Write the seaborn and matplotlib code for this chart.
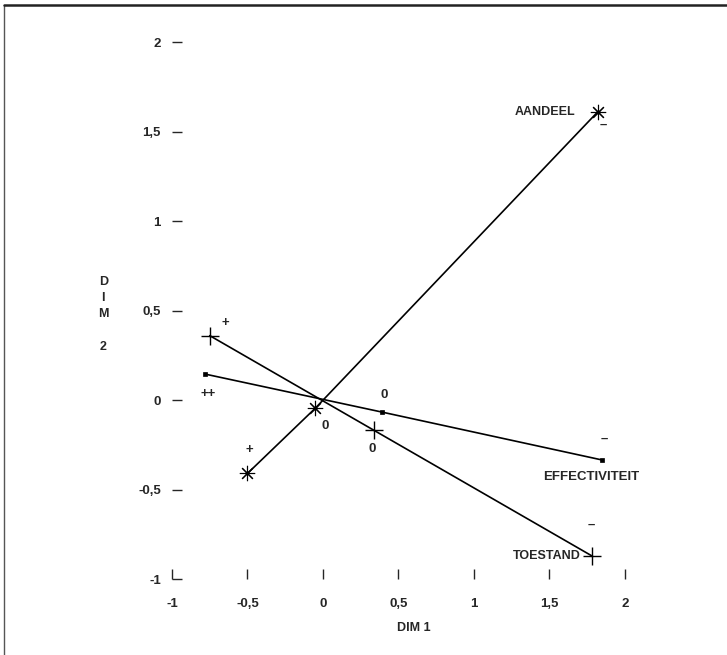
import matplotlib
matplotlib.use("Agg")
import matplotlib.pyplot as plt
from matplotlib.lines import Line2D
import pandas as pd
import seaborn as sns

# Category coordinates of the correspondence analysis (two dimensions)
variables = ["AANDEEL", "TOESTAND", "EFFECTIVITEIT"]
aandeel_dim1 = [-0.50, -0.05, 1.82]
aandeel_dim2 = [-0.41, -0.045, 1.61]
aandeel_cats = ["+", "0", "–"]
toestand_dim1 = [-0.75, 0.34, 1.78]
toestand_dim2 = [0.36, -0.17, -0.87]
toestand_cats = ["+", "0", "–"]
effect_dim1 = [-0.78, 0.39, 1.85]
effect_dim2 = [0.145, -0.067, -0.335]
effect_cats = ["++", "0", "–"]

x_ticks = [-1, -0.5, 0, 0.5, 1, 1.5, 2]
y_ticks = [-1, -0.5, 0, 0.5, 1, 1.5, 2]
x_tick_labels = ["-1", "-0,5", "0", "0,5", "1", "1,5", "2"]
y_tick_labels = ["-1", "-0,5", "0", "0,5", "1", "1,5", "2"]

frames = []
for name, xs, ys, cats in [
    ("AANDEEL", aandeel_dim1, aandeel_dim2, aandeel_cats),
    ("TOESTAND", toestand_dim1, toestand_dim2, toestand_cats),
    ("EFFECTIVITEIT", effect_dim1, effect_dim2, effect_cats),
]:
    frames.append(pd.DataFrame({"var": name, "dim1": xs, "dim2": ys,
                                "cat": cats, "order": range(len(xs))}))
df = pd.concat(frames, ignore_index=True)

sns.set_style("white")
plt.rcParams["font.family"] = ["Liberation Sans", "DejaVu Sans"]

fig = plt.figure(figsize=(7.27, 6.55), dpi=100)
ax = fig.add_axes([0.2366, 0.116, 0.6644, 0.847])

marker_style = {
    "AANDEEL": dict(marker=(8, 2, 0), markersize=11, markeredgewidth=0.8),
    "TOESTAND": dict(marker="+", markersize=13, markeredgewidth=1.0),
    "EFFECTIVITEIT": dict(marker="s", markersize=2.6, markeredgewidth=0.5),
}

for name in variables:
    sub = df[df["var"] == name]
    sns.lineplot(data=sub, x="dim1", y="dim2", sort=False, estimator=None,
                 color="black", linewidth=1.2, ax=ax,
                 markerfacecolor="black", markeredgecolor="black",
                 **marker_style[name])

# category labels beside each point (offsets in points)
cat_offsets = {
    "AANDEEL": [(1.5, 17), (7, -13), (4, -9)],
    "TOESTAND": [(11, 9), (-1.5, -13), (0, 22)],
    "EFFECTIVITEIT": [(2, -14), (2, 12), (1.5, 15)],
}
for name in variables:
    sub = df[df["var"] == name].reset_index(drop=True)
    for i, row in sub.iterrows():
        ax.annotate(row["cat"], (row["dim1"], row["dim2"]),
                    xytext=cat_offsets[name][i], textcoords="offset points",
                    ha="center", va="center", fontsize=9.5, fontweight="bold")

# variable names at the outer end of each line
end_a = df[df["var"] == "AANDEEL"].iloc[-1]
ax.annotate("AANDEEL", (end_a["dim1"], end_a["dim2"]), xytext=(-16, 0),
            textcoords="offset points", ha="right", va="center",
            fontsize=9, fontweight="bold")
end_t = df[df["var"] == "TOESTAND"].iloc[-1]
ax.annotate("TOESTAND", (end_t["dim1"], end_t["dim2"]), xytext=(-8, 0),
            textcoords="offset points", ha="right", va="center",
            fontsize=9, fontweight="bold")
end_e = df[df["var"] == "EFFECTIVITEIT"].iloc[-1]
ax.annotate("EFFECTIVITEIT", (end_e["dim1"], end_e["dim2"]), xytext=(-8, -12),
            textcoords="offset points", ha="center", va="center",
            fontsize=9.5, fontweight="bold")

ax.set_xlim(-1, 2.2)
ax.set_ylim(-1, 2.1)
ax.set_xticks(x_ticks)
ax.set_xticklabels(x_tick_labels, fontsize=9.5, fontweight="bold")
ax.set_yticks(y_ticks)
ax.set_yticklabels(y_tick_labels, fontsize=9.5, fontweight="bold")
ax.tick_params(axis="x", direction="in", length=7, width=1, pad=14, bottom=True)
ax.tick_params(axis="y", direction="in", length=7, width=1, pad=8, left=True)
for s in ax.spines.values():
    s.set_visible(False)
ax.set_xlabel("DIM 1", fontsize=9, fontweight="bold", labelpad=8)
ax.set_ylabel("")
fig.text(0.142, 0.52, "D\nI\nM\n\n2", ha="center", va="center",
         fontsize=9, fontweight="bold", linespacing=1.45)

# page frame lines
fig.add_artist(Line2D([0.006, 0.006], [0.0, 0.993], color="#555555",
                      linewidth=1.0, transform=fig.transFigure))
fig.add_artist(Line2D([0.006, 1.0], [0.993, 0.993], color="#222222",
                      linewidth=1.8, transform=fig.transFigure))

fig.savefig("out.png", dpi=100)
